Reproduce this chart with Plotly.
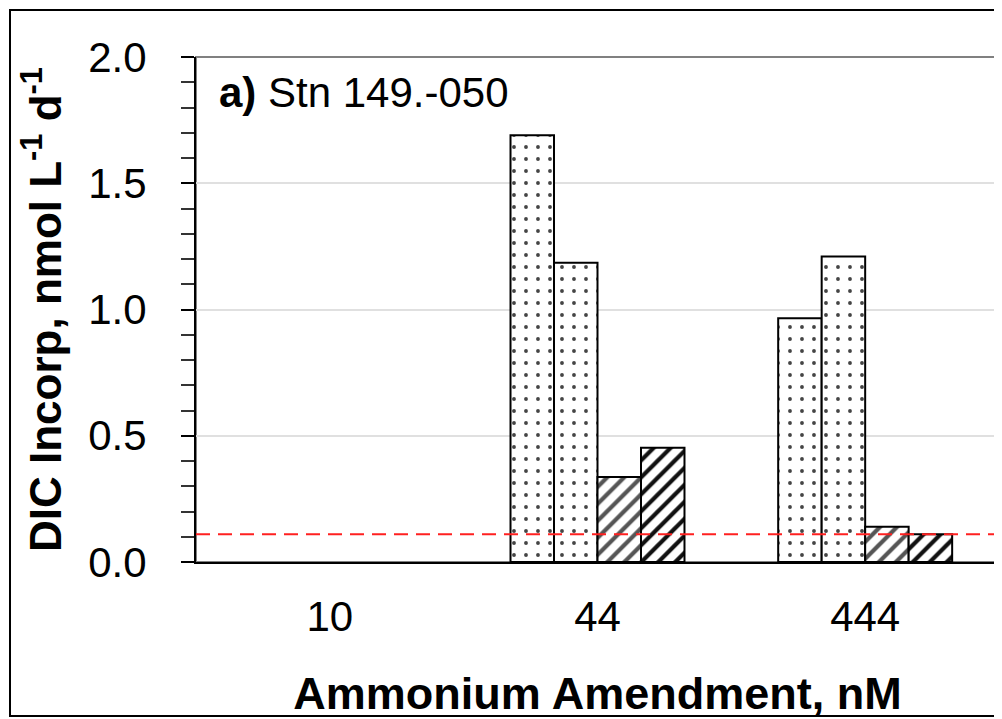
import plotly.graph_objects as go

categories = ["10", "44", "444"]
light_1 = [None, 1.69, 0.965]
light_2 = [None, 1.185, 1.21]
dark_1 = [None, 0.337, 0.14]
dark_2 = [None, 0.452, 0.11]
detection_limit = 0.11
y_ticks = [0.0, 0.5, 1.0, 1.5, 2.0]

FONT = "Liberation Sans, Arial, sans-serif"

fig = go.Figure()

series = [
    ("Light 1", light_1, ".", "#444444"),
    ("Light 2", light_2, ".", "#444444"),
    ("Dark 1", dark_1, "/", "#555555"),
    ("Dark 2", dark_2, "/", "#111111"),
]
for name, vals, shape, fg in series:
    if shape == ".":
        pat = dict(shape=".", size=12, solidity=0.08, fgcolor=fg, bgcolor="white", fillmode="replace")
    else:
        pat = dict(shape="/", size=12, solidity=0.35, fgcolor=fg, bgcolor="white", fillmode="replace")
    fig.add_trace(go.Bar(
        x=categories, y=vals, name=name,
        marker=dict(color="white", pattern=pat, line=dict(color="black", width=2)),
    ))

# plot area border (gray top/right)
fig.add_shape(type="rect", xref="paper", yref="paper", x0=0, x1=1, y0=0, y1=1,
              line=dict(color="#808080", width=2), layer="below")
# outer figure border
fig.add_shape(type="rect", xref="paper", yref="paper",
              x0=(10 - 196) / 803, x1=1.02, y0=(562 - 716) / 505, y1=1 + 47 / 505,
              line=dict(color="black", width=2))
# detection limit line
fig.add_shape(type="line", xref="paper", yref="y", x0=0, x1=1,
              y0=detection_limit, y1=detection_limit,
              line=dict(color="#ff2020", width=2, dash="14px,8px"))

fig.add_annotation(xref="paper", yref="paper", x=(217 - 196) / 803, y=(562 - 93) / 505,
                   xanchor="left", yanchor="middle", showarrow=False,
                   text="<b>a)</b> Stn 149.-050", font=dict(family=FONT, size=42, color="black"))

fig.update_layout(
    width=994, height=711,
    margin=dict(l=188, r=3, t=49, b=157),
    paper_bgcolor="white", plot_bgcolor="white",
    barmode="group", bargap=0.35, bargroupgap=0,
    showlegend=False,
    font=dict(family=FONT, color="black"),
)
fig.update_xaxes(
    type="category", range=[-0.5, 2.5],
    showline=True, linecolor="black", linewidth=2,
    ticks="", showgrid=False,
    tickfont=dict(size=42), ticklabelstandoff=17,
    title=dict(text="<b>Ammonium Amendment, nM</b>", font=dict(size=45), standoff=38),
    automargin=False,
)
fig.update_yaxes(
    range=[0, 2.0], tickvals=y_ticks, tickformat=".1f",
    showline=True, linecolor="black", linewidth=2,
    ticks="outside", ticklen=13, tickwidth=2, tickcolor="black",
    minor=dict(dtick=0.1, ticks="outside", ticklen=13, tickwidth=2, tickcolor="#333333", showgrid=False),
    showgrid=True, gridcolor="#e0e0e0", gridwidth=2,
    zeroline=False,
    tickfont=dict(size=42), ticklabelstandoff=26,
    title=dict(text="<b>DIC Incorp, nmol L<sup>-1</sup> d<sup>-1</sup></b>", font=dict(size=44), standoff=13),
    automargin=False,
)

fig.write_html("out.html")
